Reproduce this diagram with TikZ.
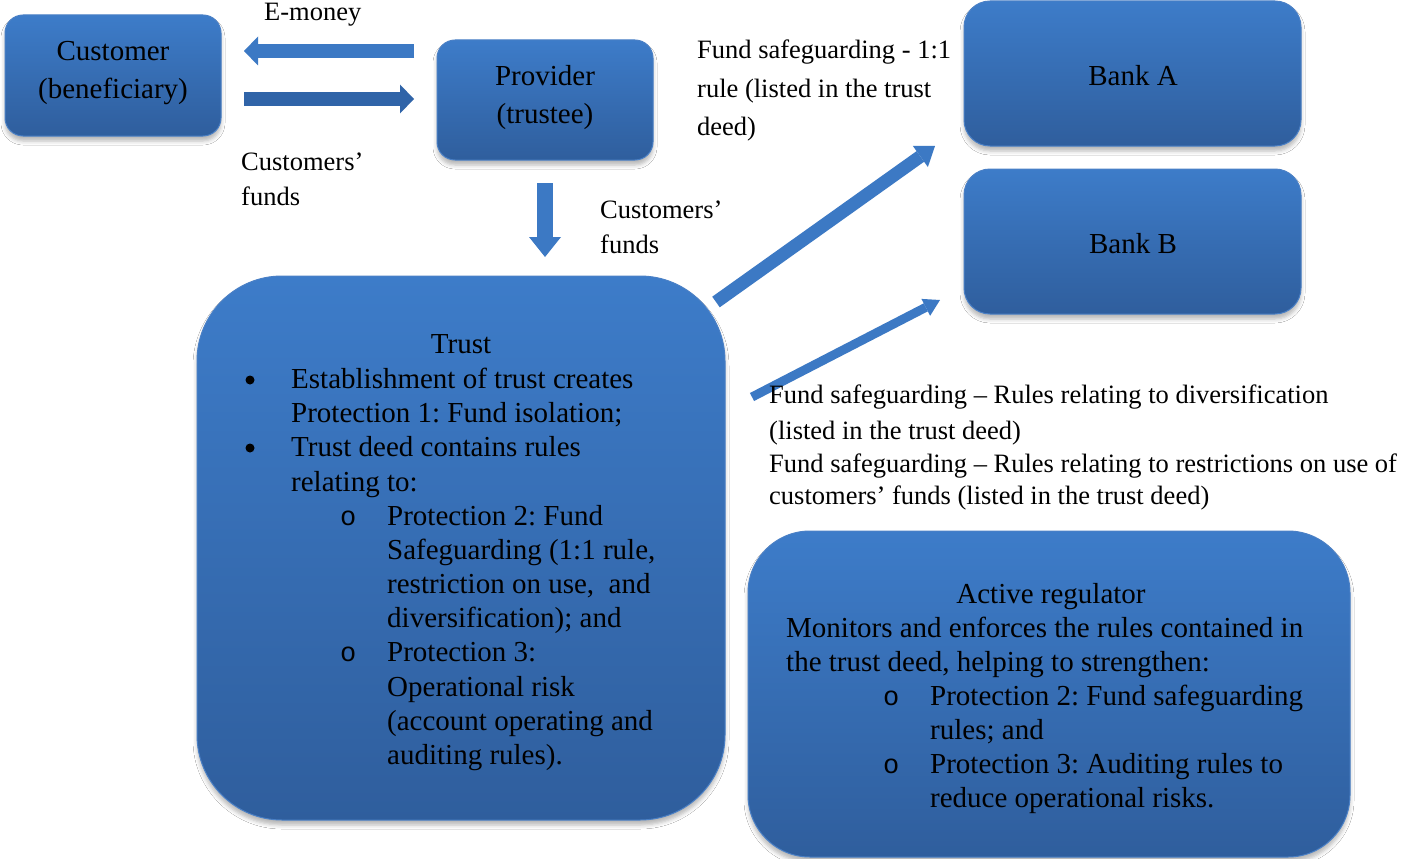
\documentclass[tikz,border=0pt]{standalone}
\usepackage{fontspec}
\setmainfont{Liberation Serif}
\newfontfamily\monofam{Liberation Mono}
\usetikzlibrary{arrows.meta,shadows.blur}

\definecolor{boxtop}{HTML}{3D7CC9}
\definecolor{boxbot}{HTML}{2F5E9D}
\definecolor{boxedge}{HTML}{4A80C6}
\definecolor{arrowlight}{HTML}{3C79C4}
\definecolor{arrowdark}{HTML}{3064A8}

\newcommand\boxfont{\fontsize{29pt}{34pt}\selectfont}
\newcommand\lblfont{\fontsize{26.5pt}{34pt}\selectfont}
\frenchspacing

\begin{document}
\begin{tikzpicture}[x=1pt,y=-1pt,
  panel/.style={draw=boxedge, line width=1pt, top color=boxtop, bottom color=boxbot,
    inner sep=0pt,
    blur shadow={shadow xshift=0pt, shadow yshift=-5pt, shadow blur radius=4pt, shadow opacity=28}},
  btx/.style={font=\boxfont, inner sep=0pt, anchor=base},
  btxl/.style={font=\boxfont, inner sep=0pt, anchor=base west},
  lbl/.style={font=\lblfont, inner sep=0pt, anchor=base west},
  bigdot/.style={circle, fill=black, inner sep=0pt, minimum size=9pt},
  subdot/.style={font=\fontsize{27pt}{34pt}\selectfont\monofam, inner sep=0pt, anchor=base west},
  blockarrow/.style={line width=#1, line cap=butt},
]
\useasboundingbox (0,0) rectangle (1403,859);
\fill[white] (0,0) rectangle (1403,859);

% panels
\node[panel, rounded corners=18pt, minimum width=216pt, minimum height=121pt] (cust) at (113,75.5) {};
\node[panel, rounded corners=18pt, minimum width=216pt, minimum height=120pt] (prov) at (545,100) {};
\node[panel, rounded corners=26pt, minimum width=337pt, minimum height=145pt] (banka) at (1132.5,73.5) {};
\node[panel, rounded corners=26pt, minimum width=337pt, minimum height=145pt] (bankb) at (1132.5,241.5) {};
\node[panel, rounded corners=85pt, minimum width=528pt, minimum height=544pt] (trust) at (461,548) {};
\node[panel, rounded corners=62pt, minimum width=602pt, minimum height=326pt] (reg) at (1049,694) {};

% panel texts
\node[btx] (cust1) at (113,60) {Customer};
\node[btx] (cust2) at (113,99) {(beneficiary)};
\node[btx] (prov1) at (545,85) {Provider};
\node[btx] (prov2) at (545,123) {(trustee)};
\node[btx] (banka1) at (1133,85) {Bank A};
\node[btx] (bankb1) at (1133,253) {Bank B};

% trust deed contents
\node[btx] (trusttitle) at (461,353) {Trust};
\foreach \n/\y in {1/380,2/448}
  \node[bigdot] (tb\n) at (250,\y) {};
\foreach \n/\y in {1/525,2/661}
  \node[subdot] (to\n) at (340,\y) {o};
\foreach \n/\x/\y/\t in {
  1/291/388/{Establishment of trust creates},
  2/291/422/{Protection 1: Fund isolation;},
  3/291/456/{Trust deed contains rules},
  4/291/491/{relating to:},
  5/387/525/{Protection 2: Fund},
  6/387/559/{Safeguarding (1:1 rule,},
  7/387/593/{restriction on use,\ \ and},
  8/387/627/{diversification); and},
  9/387/661/{Protection 3:},
  10/387/696/{Operational risk},
  11/387/730/{(account operating and},
  12/387/764/{auditing rules).}}
  \node[btxl] (tl\n) at (\x,\y) {\t};

% regulator contents
\node[btx] (regtitle) at (1051,603) {Active regulator};
\foreach \n/\y in {1/705,2/773}
  \node[subdot] (ro\n) at (883,\y) {o};
\foreach \n/\x/\y/\t in {
  1/786/637/{Monitors and enforces the rules contained in},
  2/786/671/{the trust deed, helping to strengthen:},
  3/930/705/{Protection 2: Fund safeguarding},
  4/930/739/{rules; and},
  5/930/773/{Protection 3: Auditing rules to},
  6/930/807/{reduce operational risks.}}
  \node[btxl] (rl\n) at (\x,\y) {\t};

% arrow end points
\coordinate (emS) at (414,51);
\coordinate (emE) at (244,51);
\coordinate (cfS) at (244,99);
\coordinate (cfE) at (414,99);
\coordinate (dnS) at (545,183);
\coordinate (dnE) at (545,257);
\coordinate (baS) at (716,302);
\coordinate (baE) at (935,146);
\coordinate (bbS) at (752,397);
\coordinate (bbE) at (940,300);

% block arrows
\draw[blockarrow=14pt, arrowlight, -{Triangle[length=14pt,width=29pt,line width=0pt 0]}] (emS) -- (emE);
\draw[blockarrow=14pt, arrowdark, -{Triangle[length=14pt,width=29pt,line width=0pt 0]}] (cfS) -- (cfE);
\draw[blockarrow=16pt, arrowlight, -{Triangle[length=20pt,width=32pt,line width=0pt 0]}] (dnS) -- (dnE);
\draw[blockarrow=13pt, arrowlight, -{Triangle[length=18pt,width=26pt,line width=0pt 0]}] (baS) -- (baE);
\draw[blockarrow=9pt, arrowlight, -{Triangle[length=16pt,width=19pt,line width=0pt 0]}] (bbS) -- (bbE);

% labels
\node[lbl] (emoney) at (264,21) {E-money};
\node[lbl] (cf1) at (241,170) {Customers’};
\node[lbl] (cf2) at (241,205) {funds};
\node[lbl] (cf3) at (600,218) {Customers’};
\node[lbl] (cf4) at (600,253) {funds};
\node[lbl] (fa1) at (697,59) {Fund safeguarding - 1:1};
\node[lbl] (fa2) at (697,97) {rule (listed in the trust};
\node[lbl] (fa3) at (697,135) {deed)};
\node[lbl] (fb1) at (769,403) {Fund safeguarding – Rules relating to diversification};
\node[lbl] (fb2) at (769,439) {(listed in the trust deed)};
\node[lbl] (fb3) at (769,472) {Fund safeguarding – Rules relating to restrictions on use of};
\node[lbl] (fb4) at (769,504) {customers’ funds (listed in the trust deed)};
\end{tikzpicture}
\end{document}
